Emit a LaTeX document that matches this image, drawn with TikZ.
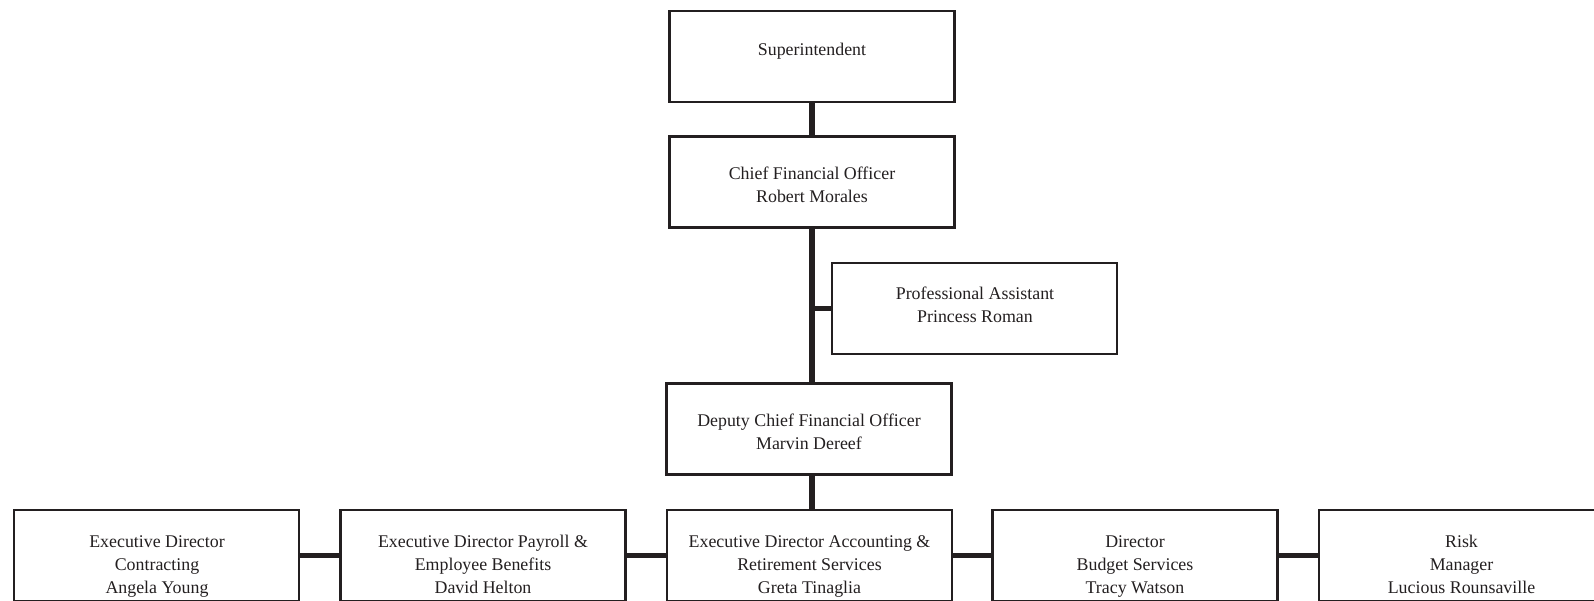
\documentclass[tikz,border=0pt]{standalone}
\usepackage{fontspec}
\setmainfont{Liberation Serif}
\usepackage{tikz}

\definecolor{inkblack}{RGB}{35,31,32}
\tikzset{
  orgbox/.style={draw=inkblack, line width=1.9pt, minimum width=214pt, minimum height=68pt, inner sep=0pt},
  orgtext/.style={align=center, inner sep=0pt, text=inkblack, font=\fontsize{13.4}{17.2}\selectfont,
    execute at begin node=\strut, execute at end node=\strut},
  orgline/.style={draw=inkblack, line width=3.8pt}
}

\begin{document}
\begin{tikzpicture}[x=0.75pt,y=0.75pt,yscale=-1,xscale=1]
        \useasboundingbox (0,0) rectangle (1594,600);

        %Boxes
        \node[orgbox] (sup) at (812,56.5) {};
        \node[orgbox] (cfo) at (812,182) {};
        \node[orgbox] (pa) at (974.5,308.5) {};
        \node[orgbox] (dep) at (809,429) {};
        \node[orgbox] (contr) at (156.5,555.5) {};
        \node[orgbox] (payr) at (483,555.5) {};
        \node[orgbox] (acct) at (809.5,555.5) {};
        \node[orgbox] (budg) at (1135,555.5) {};
        \node[orgbox] (risk) at (1461.5,555.5) {};

        %Straight Lines
        \draw[orgline] (sup.south) -- (cfo.north) ;
        \draw[orgline] (cfo.south) -- (cfo.south |- dep.north) ;
        \coordinate (paJoin) at (cfo.south |- pa.west) ;
        \draw[orgline] (paJoin) -- (pa.west) ;
        \draw[orgline] (cfo.south |- dep.south) -- (cfo.south |- acct.north) ;
        %Straight Lines
        \draw[orgline] (contr.east) -- (payr.west) ;
        \draw[orgline] (payr.east) -- (acct.west) ;
        \draw[orgline] (acct.east) -- (budg.west) ;
        \draw[orgline] (budg.east) -- (risk.west) ;

        % Text Node
        \node[orgtext] (supT) at (812,50.5) {Superintendent};
        % Text Node
        \node[orgtext] (cfoT) at (812,188) {Chief Financial Officer\\Robert Morales};
        % Text Node
        \node[orgtext] (paT) at (975,308) {Professional Assistant\\Princess Roman};
        % Text Node
        \node[orgtext] (depT) at (809,435) {Deputy Chief Financial Officer\\Marvin Dereef};
        % Text Node
        \node[orgtext] (contrT) at (157,568) {Executive Director\\Contracting\\Angela Young};
        % Text Node
        \node[orgtext] (payrT) at (483,568) {Executive Director Payroll \&\\Employee Benefits\\David Helton};
        % Text Node
        \node[orgtext] (acctT) at (809.5,568) {Executive Director Accounting \&\\Retirement Services\\Greta Tinaglia};
        % Text Node
        \node[orgtext] (budgT) at (1135,568) {Director\\Budget Services\\Tracy Watson};
        % Text Node
        \node[orgtext] (riskT) at (1461.5,568) {Risk\\Manager\\Lucious Rounsaville};

\end{tikzpicture}
\end{document}
